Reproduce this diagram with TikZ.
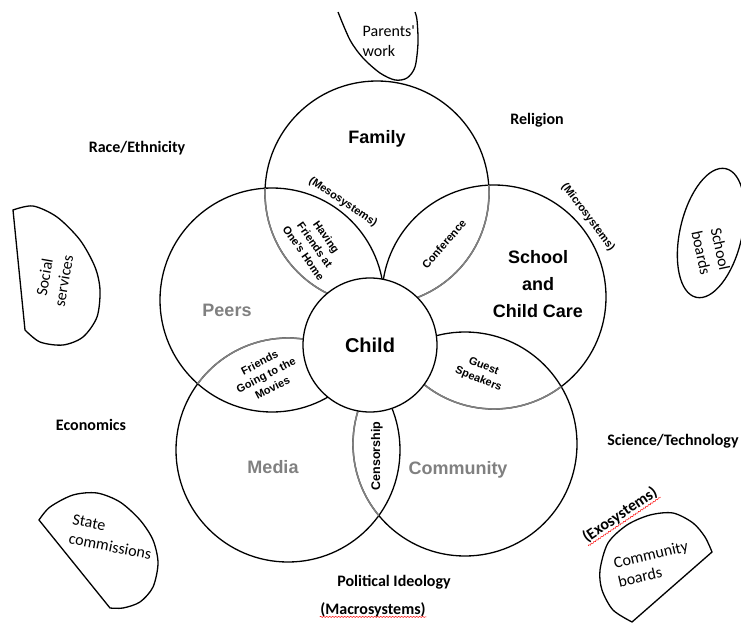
\documentclass[tikz,border=0pt]{standalone}
\usepackage{fontspec}
\setmainfont{Liberation Sans}
\newfontfamily\calibri{Carlito}
\usetikzlibrary{positioning,decorations.pathmorphing}

\begin{document}
\begin{tikzpicture}[x=1pt, y=-1pt, line width=1.3pt,
        petal/.style={font=\fontsize{18}{27}\selectfont\bfseries, align=center},
        lens/.style={font=\fontsize{11}{14}\selectfont\bfseries, align=center, inner sep=0pt},
        outer/.style={font=\calibri\bfseries\fontsize{16}{19}\selectfont, inner sep=0pt},
        board/.style={font=\calibri\fontsize{16}{19.5}\selectfont, inner sep=0pt},
        spell/.style={red, line width=0.5pt, decorate, decoration={snake, amplitude=0.6pt, segment length=3pt}}]
        \useasboundingbox (0,0) rectangle (741,623);

        % Circles
        \coordinate (familyc) at (377,193);
        \coordinate (peersc) at (272,300);
        \coordinate (schoolc) at (494,297);
        \coordinate (mediac) at (288,450);
        \coordinate (communityc) at (465,444);
        \coordinate (childc) at (370,345);
        \foreach \c in {familyc,peersc,schoolc,mediac,communityc}
            \draw (\c) circle[radius=112pt];
        \foreach \a/\b in {familyc/peersc, familyc/schoolc, mediac/peersc, schoolc/communityc, communityc/mediac} {
            \begin{scope}
                \clip (\b) circle[radius=112pt];
                \draw[gray, line width=1.6pt] (\a) circle[radius=112pt];
            \end{scope}
        }
        \draw[fill=white] (childc) circle[radius=67pt];

        % Outer shapes
        \draw plot[smooth] coordinates {(338,12) (350,40) (363,58) (380,73) (395,80) (407,78) (415,67) (418,43) (417,20) (415,12)};
        \draw plot[smooth] coordinates {(25,330) (40,342) (63,345) (83,337) (97,317) (100,290) (95,267) (80,240) (57,217) (33,206) (13,210)} -- cycle;
        \draw[rotate around={77:(711,233)}] (711,233) ellipse[x radius=66pt, y radius=31pt];
        \draw plot[smooth] coordinates {(39,520) (50,507) (73,495) (97,493) (120,502) (140,520) (153,540) (158,563) (153,587) (140,602) (123,608) (110,608)} -- cycle;
        \draw plot[smooth] coordinates {(712,552) (705,537) (693,523) (673,513) (650,515) (627,525) (608,543) (600,570) (602,590) (613,610) (632,622)} -- cycle;

        % Nodes
        \node[petal] (family) at (377,139) {Family};
        \node[petal] (school) at (538,284) {School\\and\\Child Care};
        \node[petal, text=gray] (peers) at (227,310) {Peers};
        \node[petal, text=gray] (media) at (273,467) {Media};
        \node[petal, text=gray] (community) at (458,470) {Community};
        \node[font=\fontsize{20}{24}\selectfont\bfseries] (child) at (childc) {Child};

        \node[lens, rotate=-34] (meso) at (343,202) {(Mesosystems)};
        \node[lens, rotate=-53] (micro) at (588,217) {(Microsystems)};
        \node[lens, rotate=-55] (home) at (315,245) {Having\\Friends at\\One's Home};
        \node[lens, rotate=49] (conf) at (444,244) {Conference};
        \node[lens, rotate=27] (movies) at (266,375) {Friends\\Going to the\\Movies};
        \node[lens, rotate=-22] (guest) at (481,373) {Guest\\Speakers};
        \node[lens, rotate=90, font=\fontsize{12.5}{14}\selectfont\bfseries] (censor) at (377,456) {Censorship};

        \node[outer] (race) at (137,148) {Race/Ethnicity};
        \node[outer] (religion) at (537,120) {Religion};
        \node[outer] (economics) at (91,425) {Economics};
        \node[outer] (science) at (673,441) {Science/Technology};
        \node[outer] (political) at (394,582) {Political Ideology};
        \node[outer] (macro) at (373,610) {(Macrosystems)};
        \node[outer, rotate=34] (exo) at (620,515) {(Exosystems)};
        \draw[spell] ([yshift=1pt]macro.south west) -- ([yshift=1pt]macro.south east);
        \draw[spell] (exo.south west) -- (exo.south east);

        \node[board, align=left, anchor=west] (parents) at (362,41) {Parents'\\work};
        \node[board, align=center, rotate=80] (social) at (54,279) {Social\\services};
        \node[board, align=center, rotate=-78] (sboards) at (711,251) {School\\boards};
        \node[board, align=left, rotate=-11] (state) at (112,537) {State\\commissions};
        \node[board, align=left, rotate=13] (cboards) at (653,564) {Community\\boards};
    \end{tikzpicture}
\end{document}
